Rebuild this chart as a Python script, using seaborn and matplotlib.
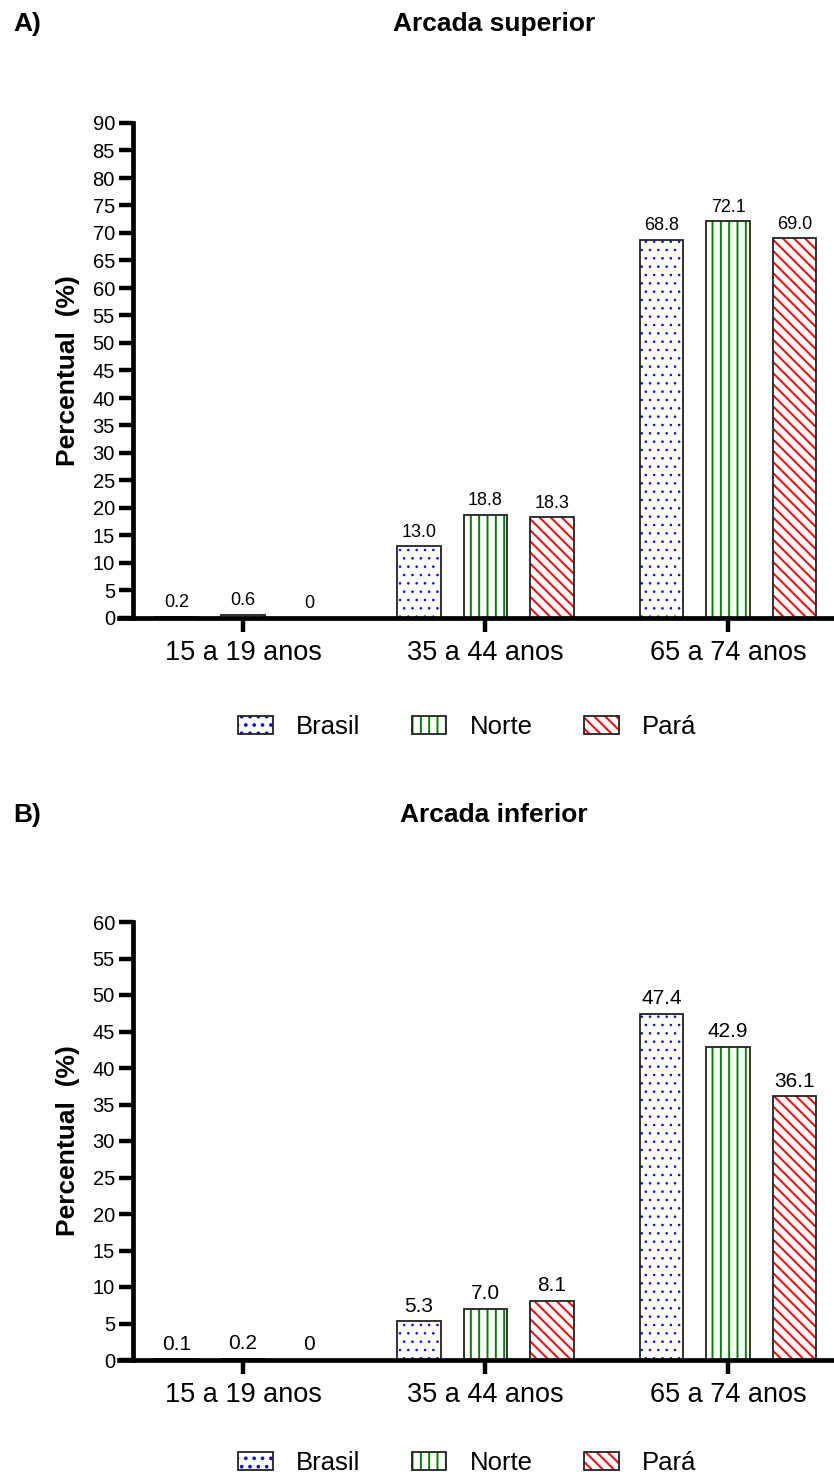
import numpy as np
import pandas as pd
import matplotlib
matplotlib.use("Agg")
import matplotlib.pyplot as plt
import seaborn as sns
from matplotlib.patches import Patch, Rectangle
from matplotlib.legend_handler import HandlerTuple

# ---- data ----
grupos = ["15 a 19 anos", "35 a 44 anos", "65 a 74 anos"]
regioes = ["Brasil", "Norte", "Pará"]
sup_brasil = [0.2, 13.0, 68.8]
sup_norte = [0.6, 18.8, 72.1]
sup_para = [0.0, 18.3, 69.0]
inf_brasil = [0.1, 5.3, 47.4]
inf_norte = [0.2, 7.0, 42.9]
inf_para = [0.0, 8.1, 36.1]

sns.set_theme(style="ticks")
plt.rcParams['font.family'] = ['Liberation Sans', 'DejaVu Sans']
plt.rcParams['hatch.linewidth'] = 1.4
for k in ('text.color', 'axes.labelcolor', 'xtick.color', 'ytick.color', 'axes.edgecolor'):
    plt.rcParams[k] = 'black'

hatch_colors = {"Brasil": "#0000ff", "Norte": "#008000", "Pará": "#ff0000"}
hatches = {"Brasil": "..", "Norte": "||", "Pará": "\\\\\\"}
hatch_lw = {"Brasil": 0.6, "Norte": 1.4, "Pará": 1.4}
EDGE = "#222222"

W, H = 834, 1478
fig = plt.figure(figsize=(W / 100, H / 100), dpi=100)

XL = (-0.5113, 2.4371)
YSPINE = -0.4536


def style_patch(pt, reg):
    pt.set_facecolor("white")
    pt.set_edgecolor(hatch_colors[reg])
    pt.set_hatch(hatches[reg])
    pt.set_linewidth(0)
    if hasattr(pt, "set_hatch_linewidth"):
        pt.set_hatch_linewidth(hatch_lw[reg])


def panel(ax, b, n, p, ymax, lab_fs):
    df = pd.DataFrame({
        "grupo": grupos * 3,
        "regiao": [r for r in regioes for _ in grupos],
        "valor": b + n + p,
    })
    sns.barplot(data=df, x="grupo", y="valor", hue="regiao", order=grupos,
                hue_order=regioes, palette=["white"] * 3, width=0.822, gap=0.343,
                errorbar=None, legend=False, ax=ax, saturation=1)
    for cont, reg in zip(ax.containers, regioes):
        for bar in cont:
            style_patch(bar, reg)
            ax.add_patch(Rectangle(bar.get_xy(), bar.get_width(), bar.get_height(),
                                   facecolor="none", edgecolor=EDGE, lw=1.3,
                                   zorder=bar.get_zorder() + 0.1))
        labels = ["0" if v == 0 else f"{v:.1f}" for v in cont.datavalues]
        ax.bar_label(cont, labels=labels, padding=4, fontsize=lab_fs, color='black')
    ax.set_xlim(*XL)
    ax.set_ylim(0, ymax)
    ax.set_yticks(np.arange(0, ymax + 1, 5))
    ax.spines['left'].set_position(('data', YSPINE))
    ax.spines[['top', 'right']].set_visible(False)
    for s in ('left', 'bottom'):
        ax.spines[s].set_linewidth(3.4)
        ax.spines[s].set_color('black')
        ax.spines[s].set_zorder(5)
    ax.tick_params(axis='both', width=3.2, length=10, color='black', labelcolor='black')
    ax.tick_params(axis='y', labelsize=14.5, pad=3)
    ax.tick_params(axis='x', labelsize=19.5, pad=6)
    ax.set_xlabel("")
    ax.set_ylabel("Percentual  (%)", fontsize=19, fontweight='bold', labelpad=9,
                  color='black')


def legend(y):
    handles = []
    for r in regioes:
        hp = Patch()
        style_patch(hp, r)
        handles.append((hp, Patch(facecolor='none', edgecolor=EDGE, lw=1.3)))
    fig.legend(handles, regioes, handler_map={tuple: HandlerTuple(ndivide=1, pad=0)},
               loc='center', bbox_to_anchor=(0.56, y), ncol=3, frameon=False,
               fontsize=18.5, handlelength=1.35, handleheight=0.7,
               handletextpad=0.9, columnspacing=2.0, labelcolor='black')


ax1 = fig.add_axes([119 / W, (H - 618) / H, 1 - 119 / W, (618 - 123) / H])
panel(ax1, sup_brasil, sup_norte, sup_para, 90, 13)
ax2 = fig.add_axes([119 / W, (H - 1360) / H, 1 - 119 / W, (1360 - 922) / H])
panel(ax2, inf_brasil, inf_norte, inf_para, 60, 15)

legend(1 - 727 / H)
legend(1 - 1463 / H)

fig.text(13 / W, 1 - 24 / H, "A)", fontsize=19, fontweight='bold', ha='left', va='center')
fig.text(494 / W, 1 - 24 / H, "Arcada superior", fontsize=19, fontweight='bold', ha='center', va='center')
fig.text(13 / W, 1 - 815 / H, "B)", fontsize=19, fontweight='bold', ha='left', va='center')
fig.text(494 / W, 1 - 815 / H, "Arcada inferior", fontsize=19, fontweight='bold', ha='center', va='center')

fig.savefig("out.png", dpi=100)
